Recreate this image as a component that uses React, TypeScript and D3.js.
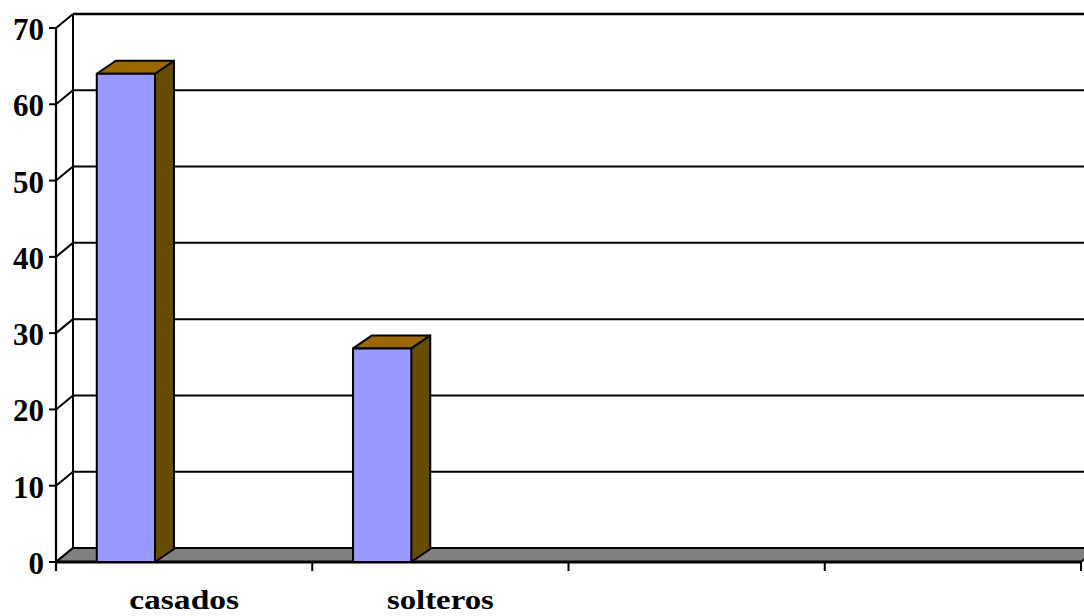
import React from "react";
import * as d3 from "d3";

// Chart data
const categories = ["casados", "solteros", "", ""];
const values: (number | null)[] = [64, 28, null, null];
const yTicks = [0, 10, 20, 30, 40, 50, 60, 70];

const W = 1084;
const H = 616;

// Front plane of the plot and 3D depth offsets
const FRONT_LEFT = 56;
const FRONT_RIGHT = 1081;
const WALL_DX = 17;
const WALL_DY = -14;
const BAR_DX = 19;
const BAR_DY = -13;

const FONT = "Liberation Serif, Times New Roman, serif";

export default function App() {
  const y = d3.scaleLinear().domain([0, 70]).range([562, 28]);
  const x = d3
    .scaleBand<string>()
    .domain(categories.map((c, i) => `${i}`))
    .range([FRONT_LEFT, FRONT_RIGHT])
    .paddingInner(0)
    .paddingOuter(0);
  const step = x.step();
  // three bar slots per category, first slot is drawn
  const slot = d3
    .scaleBand<number>()
    .domain([0, 1, 2])
    .range([0, step])
    .paddingInner(0)
    .paddingOuter(0.7);

  const y0 = y(0);
  const backLeft = FRONT_LEFT + WALL_DX;
  const backRight = FRONT_RIGHT + WALL_DX;

  const floor = [
    [FRONT_LEFT, y0],
    [FRONT_RIGHT, y0],
    [backRight, y0 + WALL_DY],
    [backLeft, y0 + WALL_DY],
  ];

  const poly = (pts: number[][]) => pts.map((p) => p.join(",")).join(" ");

  return (
    <svg
      width={W}
      height={H}
      style={{ position: "absolute", left: 0, top: 0, background: "#fff" }}
    >
      {/* back wall gridlines */}
      {yTicks.slice(1).map((t) => (
        <line
          key={`g${t}`}
          x1={backLeft}
          x2={backRight}
          y1={y(t) + WALL_DY}
          y2={y(t) + WALL_DY}
          stroke="#000"
          strokeWidth={t === 70 ? 2.4 : 2}
        />
      ))}
      {/* back wall left edge */}
      <line
        x1={backLeft}
        x2={backLeft}
        y1={y(70) + WALL_DY}
        y2={y0 + WALL_DY}
        stroke="#000"
        strokeWidth={2}
      />
      {/* side wall diagonals */}
      {yTicks.map((t) => (
        <line
          key={`d${t}`}
          x1={FRONT_LEFT}
          y1={y(t)}
          x2={backLeft}
          y2={y(t) + WALL_DY}
          stroke="#000"
          strokeWidth={2}
        />
      ))}
      {/* floor */}
      <polygon points={poly(floor)} fill="#808080" stroke="#000" strokeWidth={2} />
      <line x1={FRONT_LEFT} x2={FRONT_RIGHT} y1={y0} y2={y0} stroke="#000" strokeWidth={3} />
      {/* front value axis */}
      <line
        x1={FRONT_LEFT}
        x2={FRONT_LEFT}
        y1={y(70)}
        y2={y0 + 9}
        stroke="#000"
        strokeWidth={2.2}
      />
      {yTicks.map((t) => (
        <g key={`t${t}`}>
          <line
            x1={FRONT_LEFT - 7}
            x2={FRONT_LEFT}
            y1={y(t)}
            y2={y(t)}
            stroke="#000"
            strokeWidth={2}
          />
          <text
            x={FRONT_LEFT - 12}
            y={y(t) + 12}
            textAnchor="end"
            fontFamily={FONT}
            fontWeight="bold"
            fontSize={31}
            fill="#000"
          >
            {t}
          </text>
        </g>
      ))}
      {/* category ticks */}
      {d3.range(categories.length + 1).map((i) => (
        <line
          key={`c${i}`}
          x1={FRONT_LEFT + i * step}
          x2={FRONT_LEFT + i * step}
          y1={y0}
          y2={y0 + 9}
          stroke="#000"
          strokeWidth={2}
        />
      ))}
      {/* bars */}
      {values.map((v, i) => {
        if (v == null) return null;
        const x0 = (x(`${i}`) as number) + (slot(0) as number);
        const x1 = x0 + slot.bandwidth();
        const yt = y(v);
        const top = [
          [x0, yt],
          [x1, yt],
          [x1 + BAR_DX, yt + BAR_DY],
          [x0 + BAR_DX, yt + BAR_DY],
        ];
        const side = [
          [x1, yt],
          [x1 + BAR_DX, yt + BAR_DY],
          [x1 + BAR_DX, y0 + BAR_DY],
          [x1, y0],
        ];
        return (
          <g key={`b${i}`} stroke="#000" strokeWidth={2} strokeLinejoin="round">
            <polygon points={poly(side)} fill="#664C00" />
            <polygon points={poly(top)} fill="#996600" />
            <rect x={x0} y={yt} width={x1 - x0} height={y0 - yt} fill="#9999FF" />
          </g>
        );
      })}
      {/* category labels */}
      {categories.map((c, i) =>
        c ? (
          <text
            key={`l${i}`}
            x={(x(`${i}`) as number) + step / 2}
            y={609}
            textAnchor="middle"
            fontFamily={FONT}
            fontWeight="bold"
            fontSize={27}
            textLength={c === "casados" ? 110 : 107}
            lengthAdjust="spacingAndGlyphs"
            fill="#000"
          >
            {c}
          </text>
        ) : null
      )}
    </svg>
  );
}
